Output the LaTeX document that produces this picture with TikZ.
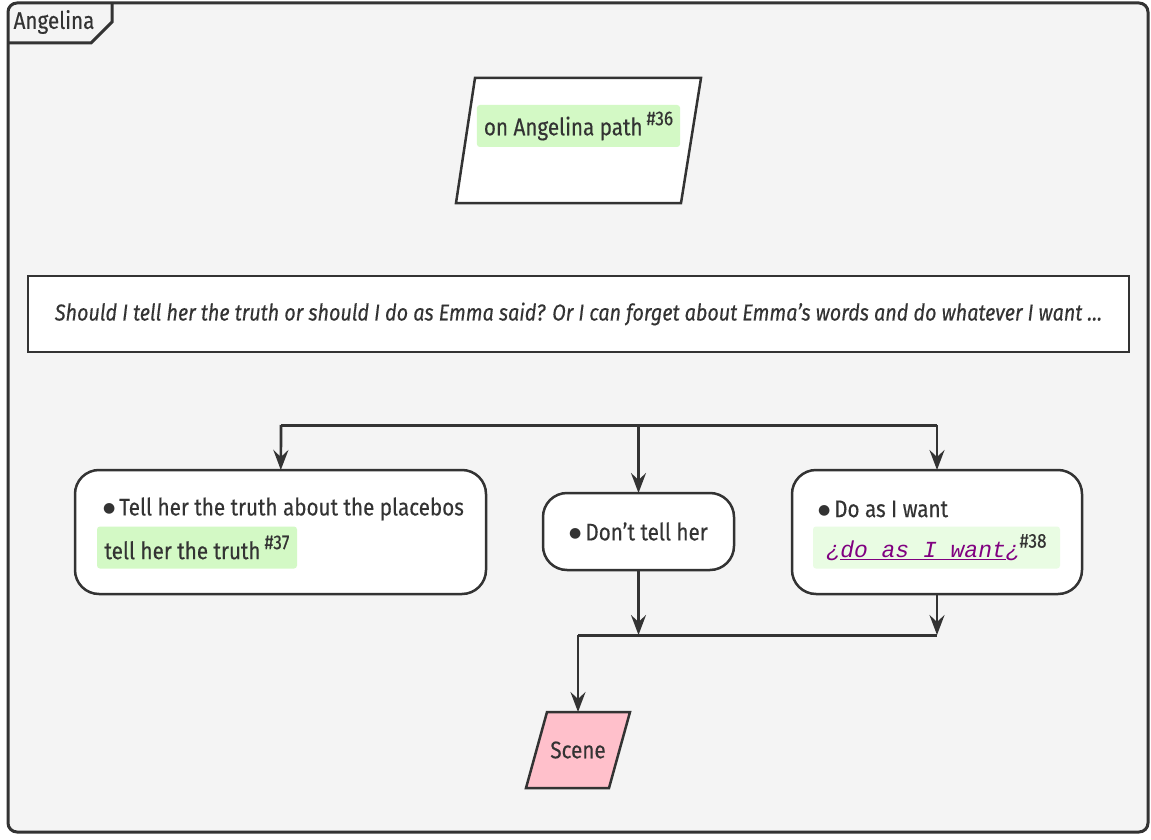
\documentclass[tikz,border=0pt]{standalone}
\usepackage{fontspec}
\setmainfont[FakeStretch=0.86,FakeBold=0.35]{Fira Sans}
\newfontfamily\linkmono{Liberation Mono}
\newfontfamily\symfont{DejaVu Sans}
\usetikzlibrary{arrows.meta}
\definecolor{ink}{HTML}{333333}
\definecolor{bgpane}{HTML}{F4F4F4}
\definecolor{hlgreen}{HTML}{D3F9C5}
\definecolor{hllight}{HTML}{E9FCE3}
\definecolor{scenepink}{HTML}{FFC0CB}
\definecolor{linkpurple}{HTML}{800080}
\newcommand{\refsup}[1]{\raisebox{0.42em}{\fontsize{20}{20}\selectfont\##1}}
\newcommand{\bulletmark}{\raisebox{0.12em}{\symfont\fontsize{14}{14}\selectfont●}}
\begin{document}
\begin{tikzpicture}[x=1pt,y=-1pt,
  font=\fontsize{24}{28}\selectfont, text=ink,
  every node/.style={inner sep=0pt, outer sep=0pt},
  pane/.style={draw=ink, line width=3pt, fill=bgpane, rounded corners=9pt},
  paraline/.style={draw=ink, line width=2.5pt, line join=miter},
  plainbox/.style={rectangle, draw=ink, line width=2.5pt, fill=white},
  actbox/.style={rectangle, draw=ink, line width=2.5pt, fill=white, rounded corners=24pt},
  hl/.style={rectangle, rounded corners=3pt, inner xsep=7pt, minimum height=42pt},
  bar/.style={draw=ink, line width=3pt},
  flow/.style={draw=ink, line width=2.7pt, -{Stealth[length=20pt,width=15pt,inset=7pt]}},
]
\useasboundingbox (0,0) rectangle (1151,840);
\fill[white] (0,0) rectangle (1151,840);
\draw[pane] (8,3) rectangle (1148,832);
\draw[draw=ink, line width=3pt] (8,43) -- (91,43) -- (112,22) -- (112,3);
\node (title) at (54,22) {Angelina};

% start parallelogram
\filldraw[paraline, fill=white] (475,78) -- (701,78) -- (681,203) -- (456,203) -- cycle;
\node[minimum width=205pt, minimum height=125pt] (start) at (578,140.5) {};
\node[hl, fill=hlgreen, minimum width=201pt] (hl36) at (578.5,126) {on Angelina path\,\refsup{36}};

% question
\node[plainbox, minimum width=1101pt, minimum height=76pt] (question) at (578.5,314)
  {\fontsize{23}{27}\selectfont\itshape Should I tell her the truth or should I do as Emma said? Or I can forget about Emma’s words and do whatever I want …};

% split
\coordinate (sL) at (281,425);
\coordinate (sM) at (638.5,425);
\coordinate (sR) at (937,425);
\draw[bar] (sL) -- (sR);

% actions
\node[actbox, minimum width=411pt, minimum height=124pt] (truth) at (280.5,532) {};
\node[anchor=west] (truthtxt) at (103,509) {\bulletmark\,Tell her the truth about the placebos};
\node[hl, fill=hlgreen, minimum width=200pt] (hl37) at (197,547.5) {tell her the truth\,\refsup{37}};

\node[actbox, minimum width=191pt, minimum height=77pt] (donttell) at (638.5,531.5) {\bulletmark\,Don’t tell her};

\node[actbox, minimum width=290pt, minimum height=124pt] (want) at (937,532) {};
\node[anchor=west] (wanttxt) at (818,509) {\bulletmark\,Do as I want};
\node[hl, fill=hllight, minimum width=247pt] (hl38) at (936.5,547.5)
  {{\color{linkpurple}\linkmono\itshape\fontsize{23}{26}\selectfont ¿\underline{do as I want}¿}\refsup{38}};

\draw[flow] (sL) -- (truth);
\draw[flow] (sM) -- (donttell);
\draw[flow] (sR) -- (want);

% merge
\coordinate (mL) at (578,635);
\coordinate (mM) at (638.5,635);
\coordinate (mR) at (937,635);
\draw[flow] (donttell) -- (mM);
\draw[flow] (want) -- (mR);
\draw[bar] (mL) -- (mR);

\filldraw[paraline, fill=scenepink] (547,712) -- (630,712) -- (609,788) -- (526,788) -- cycle;
\node[minimum width=83pt, minimum height=76pt] (scene) at (578,750) {Scene};
\draw[flow] (mL) -- (scene);
\end{tikzpicture}
\end{document}
